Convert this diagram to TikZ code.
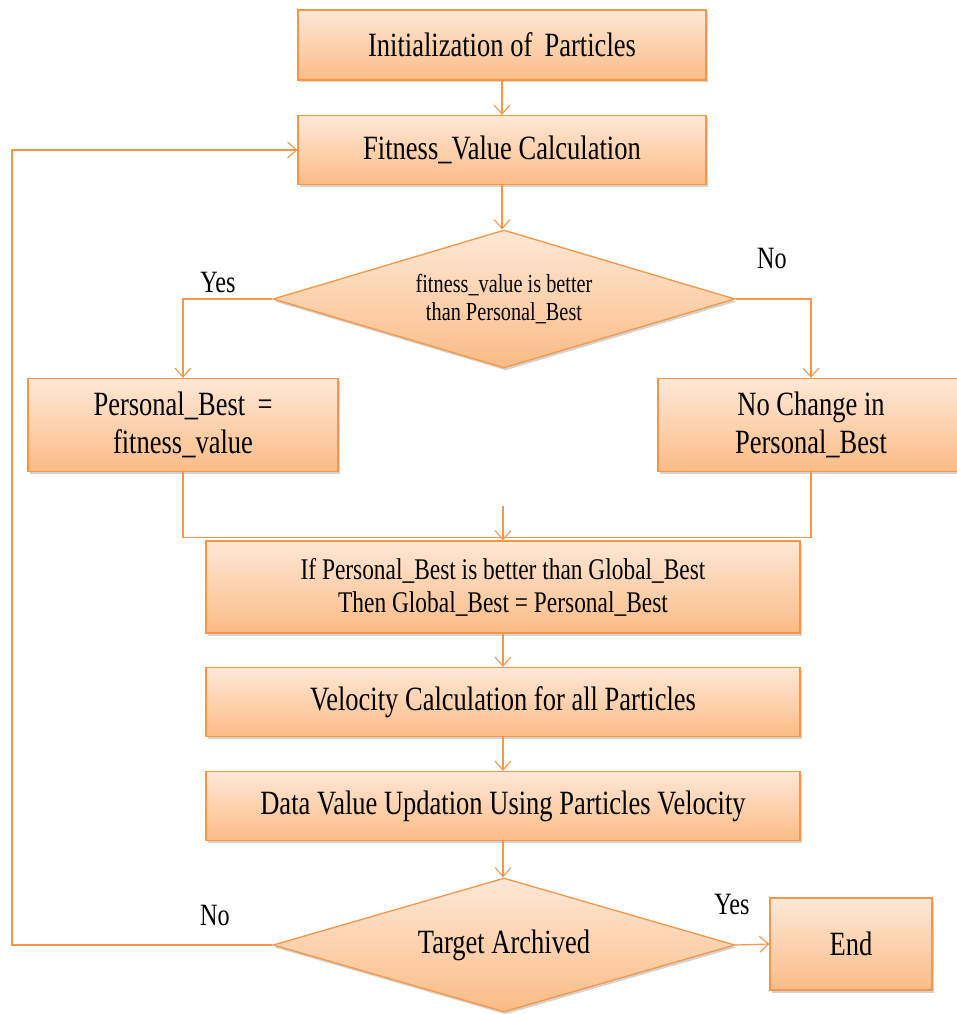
\documentclass[tikz,border=0pt]{standalone}
\usepackage{fontspec}
\setmainfont{Liberation Serif}[FakeStretch=0.78]
\usepackage{tikz}
\usetikzlibrary{arrows,arrows.meta,shapes,shadows}
\usetikzlibrary{positioning}
\definecolor{boxline}{HTML}{F79646}
\definecolor{boxtop}{HTML}{FEE8D6}
\definecolor{boxbot}{HTML}{FBBC86}
\tikzstyle{hit}=[draw=boxline,line width=1.2pt,->,>={Straight Barb[length=9pt,width=16pt,line width=1.1pt]}]
\tikzstyle{link}=[draw=boxline,line width=1.2pt]
\tikzstyle{Pbox}=[draw=boxline,line width=1.3pt,top color=boxtop,bottom color=boxbot,
                drop shadow={shadow xshift=1.5pt,shadow yshift=-2.5pt,opacity=.35,fill=gray},
                inner sep=0,align=center,font=\fontsize{34}{38}\selectfont]
\tikzstyle{Pdec}=[Pbox,diamond,aspect=3.35]
\tikzstyle{lbl}=[font=\fontsize{31}{34}\selectfont]

\begin{document}
\begin{tikzpicture}[x=1pt,y=1pt]
\path[use as bounding box] (0,0) rectangle (956,-1014);

\node[Pbox,minimum width=408pt,minimum height=70pt] (init) at (502,-45) {Initialization of\, Particles};
\node[Pbox,minimum width=408pt,minimum height=69pt,below of=init,node distance=105pt] (fit) {Fitness\_Value Calculation};
\node[Pdec,minimum width=462pt,minimum height=138pt,below of=fit,node distance=149pt,xshift=2pt,
      font=\fontsize{26}{28}\selectfont] (dec1) {fitness\_value is better\\than Personal\_Best};

\node[Pbox,minimum width=310pt,minimum height=93pt] (pb) at (183,-425) {Personal\_Best \,=\\fitness\_value};
\node[Pbox,minimum width=306pt,minimum height=93pt] (nochg) at (811,-425) {No Change in\\Personal\_Best};

\node[Pbox,minimum width=594pt,minimum height=92pt,font=\fontsize{30}{33}\selectfont] (glob) at (503,-587)
{If Personal\_Best is better than Global\_Best\\Then Global\_Best = Personal\_Best};
\node[Pbox,minimum width=594pt,minimum height=69pt,below of=glob,node distance=115pt] (vel) {Velocity Calculation for all Particles};
\node[Pbox,minimum width=594pt,minimum height=69pt,below of=vel,node distance=104pt] (data) {Data Value Updation Using Particles Velocity};
\node[Pdec,minimum width=462pt,minimum height=134pt,below of=data,node distance=139pt,xshift=1pt] (dec2) {Target Archived};
\node[Pbox,minimum width=162pt,minimum height=92pt] (end) at (851,-944) {End};

\node[lbl] (yes1) at (218,-282) {Yes};
\node[lbl] (no1) at (772,-259) {No};
\node[lbl] (no2) at (215,-915) {No};
\node[lbl] (yes2) at (732,-904) {Yes};

\coordinate (merge) at ([yshift=34pt]glob.north);
\coordinate (loop) at (12,-945);

\draw[hit] (init) -- (fit);
\draw[hit] (fit.south) -- (fit.south |- dec1.north);
\draw[hit] (dec1.west) -| (pb.north);
\draw[hit] (dec1.east) -| (nochg.north);
\draw[link] (pb.south) -- ++(0,-65) -| (nochg.south);
\draw[hit] (merge) -- (glob.north);
\draw[hit] (glob) -- (vel);
\draw[hit] (vel) -- (data);
\draw[hit] (data.south) -- (data.south |- dec2.north);
\draw[hit] (dec2.west) -- (loop) |- (fit.west);
\draw[hit] (dec2.east) -- (end.west);
\end{tikzpicture}
\end{document}
